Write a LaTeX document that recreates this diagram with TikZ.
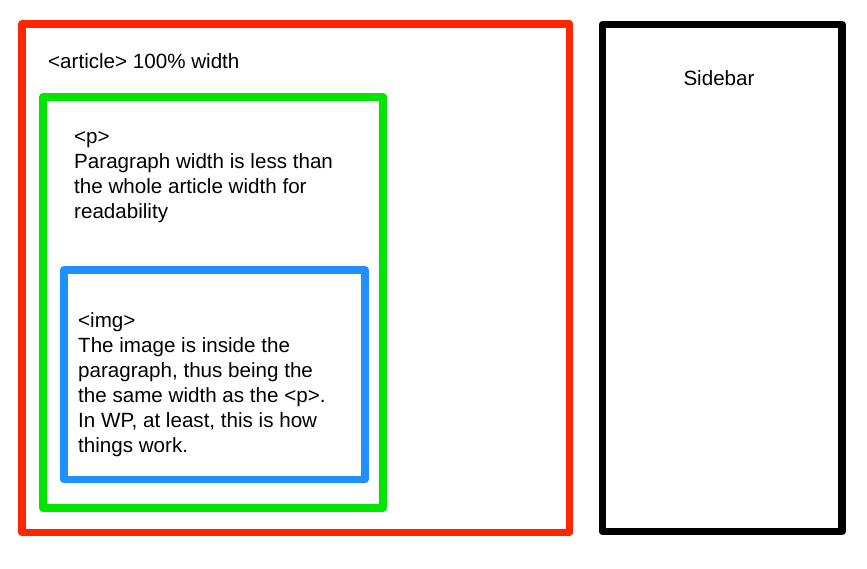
\documentclass[tikz,border=0pt]{standalone}
\usepackage{fontspec}
\setmainfont{Liberation Sans}
\definecolor{artred}{RGB}{255,38,0}
\definecolor{pgreen}{RGB}{0,230,0}
\definecolor{imgblue}{RGB}{30,144,255}
\begin{document}
\begin{tikzpicture}[x=1pt,y=-1pt,
  frame/.style={draw, line width=7.5pt, line join=round, inner sep=0pt, outer sep=0pt, fill=none},
  label/.style={anchor=base west, inner sep=0pt, align=left, font=\fontsize{20.6pt}{25pt}\selectfont}]
\useasboundingbox[fill=white] (0,0) rectangle (867,569);
\node[frame, draw=artred, minimum width=547.5pt, minimum height=508.5pt] (article) at (295.75,278.25) {};
\node[frame, draw=black, minimum width=239.5pt, minimum height=507pt] (sidebar) at (722.25,278) {};
\node[frame, draw=pgreen, minimum width=340pt, minimum height=411pt] (para) at (213,302.5) {};
\node[frame, draw=imgblue, minimum width=301pt, minimum height=209.5pt] (img) at (214.5,374.75) {};
\node[label] (articletext) at (48,69) {<article> 100\% width};
\node[label, anchor=base] (sidebartext) at (719,86) {Sidebar};
% multi-line nodes: base anchor is the baseline of the last line
\node[label] (ptext) at (74,219) {<p>\\Paragraph width is less than\\the whole article width for\\readability};
\node[label] (imgtext) at (78,452) {<img>\\The image is inside the\\paragraph, thus being the\\the same width as the <p>.\\In WP, at least, this is how\\things work.};
\end{tikzpicture}
\end{document}
